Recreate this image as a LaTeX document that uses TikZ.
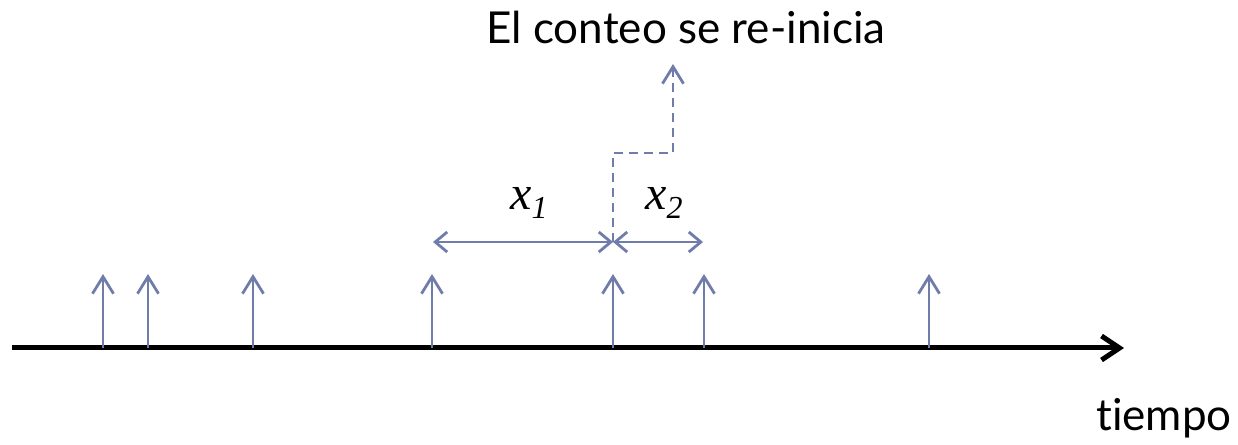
\documentclass[tikz,border=0pt]{standalone}
\usepackage{fontspec}
\setmainfont[Ligatures=NoCommon]{Lato}
\newfontfamily\tnr{Liberation Serif}
\usetikzlibrary{arrows.meta}
\definecolor{tick}{RGB}{112,124,170}
\tikzset{
  evt/.style={draw=tick, line width=2.8pt, -{Straight Barb[length=17pt,width=21pt,line width=2.8pt]}},
  dim/.style={draw=tick, line width=2.8pt, {Straight Barb[length=12pt,width=20pt,line width=2.8pt]}-{Straight Barb[length=12pt,width=20pt,line width=2.8pt]}},
  dsh/.style={draw=tick, line width=2.8pt, dash pattern=on 9pt off 6pt, -{Straight Barb[length=17pt,width=21pt,line width=2.8pt]}},
  axis/.style={draw=black, line width=5pt, -{Straight Barb[length=18pt,width=24pt,line width=5pt]}},
  lbl/.style={inner sep=0pt, anchor=base, font=\fontsize{44pt}{50pt}\selectfont},
  var/.style={inner sep=0pt, anchor=base west, font=\tnr\itshape\fontsize{48pt}{54pt}\selectfont}
}
\begin{document}
\begin{tikzpicture}[x=1pt,y=1pt]
\useasboundingbox (0,0) rectangle (1238,444);
% axis
\coordinate (a0) at (12,96);
\coordinate (a1) at (1124,96);
\draw[axis] (a0) -- (a1);
% events
\foreach \n/\x in {e1/103,e2/148,e3/253,e4/432,e5/613,e6/704,e7/929}{
  \coordinate (\n b) at (\x,96);
  \coordinate (\n t) at (\x,170);
  \draw[evt] (\n b) -- (\n t);
}
% dimension arrows
\coordinate (d0) at (433,202);
\coordinate (d1) at (613,202);
\coordinate (d2) at (703,202);
\draw[dim] (d0) -- (d1);
\draw[dim] (d1) -- (d2);
% dashed restart
\coordinate (c1) at (613,291);
\coordinate (c2) at (673,291);
\coordinate (c3) at (673,380);
\draw[dsh] (d1) -- (c1) -- (c2) -- (c3);
% labels
\node[var] (x1) at (510,234) {x\raisebox{-9pt}{\fontsize{32pt}{36pt}\selectfont 1}};
\node[var] (x2) at (645,234) {x\raisebox{-9pt}{\fontsize{32pt}{36pt}\selectfont 2}};
\node[lbl] (title) at (686,400) {El conteo se re-inicia};
\node[lbl] (tiempo) at (1164,14) {tiempo};
\end{tikzpicture}
\end{document}
